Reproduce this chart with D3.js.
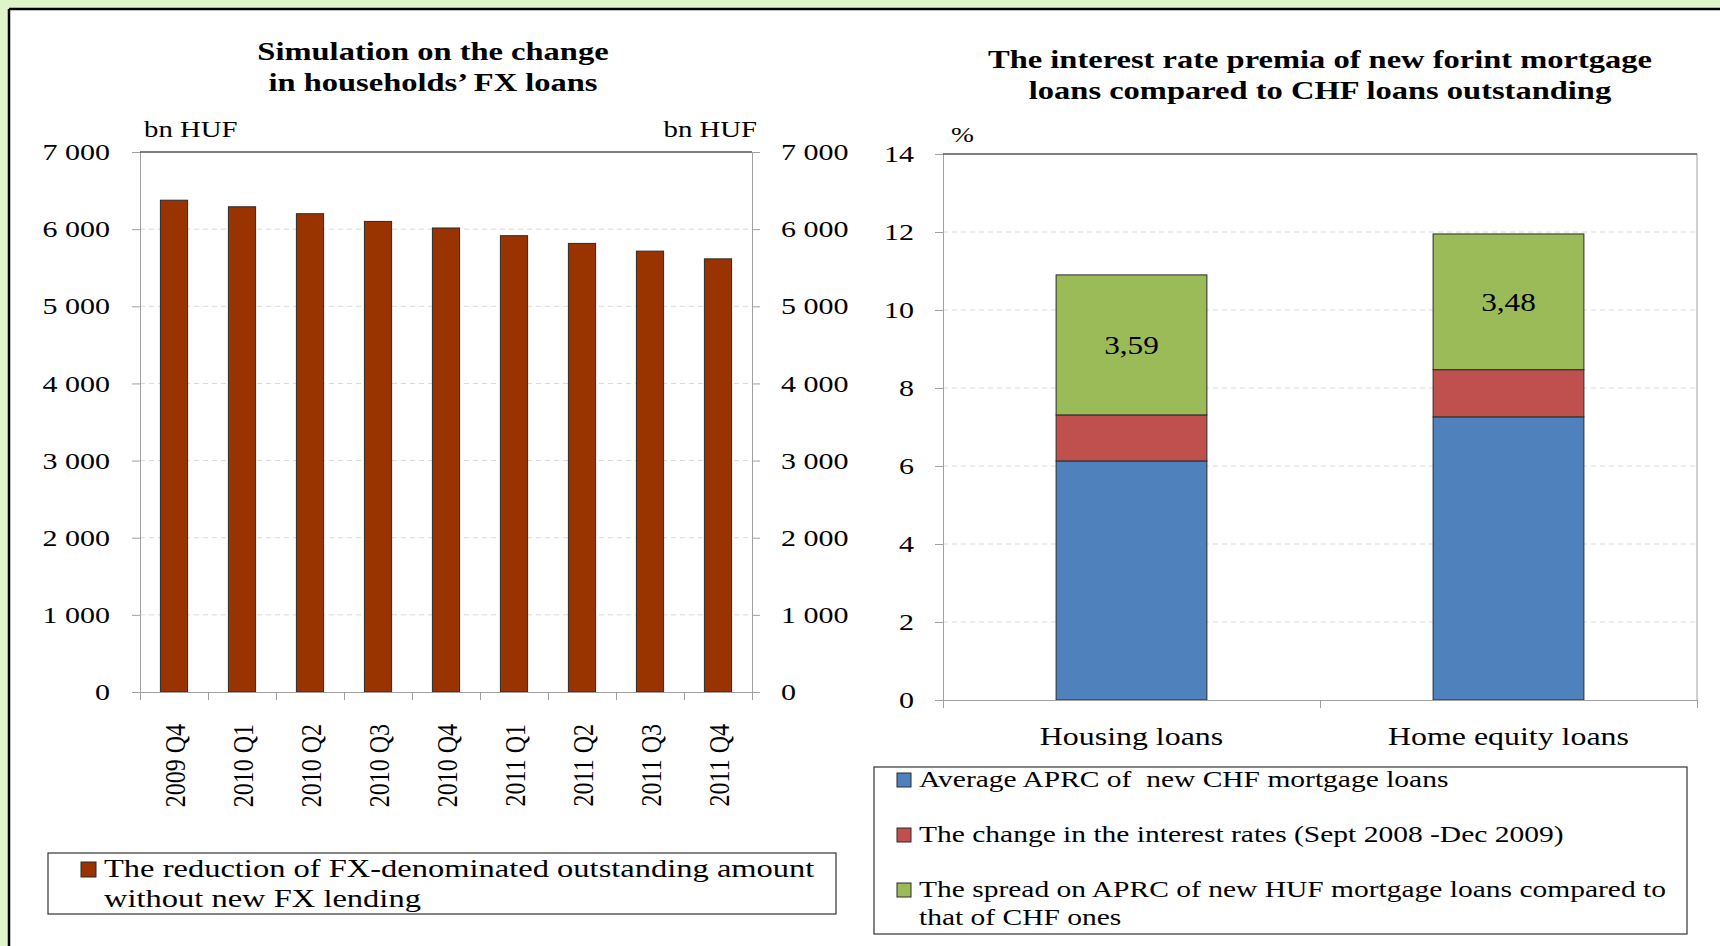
<!DOCTYPE html>
<html>
<head>
<meta charset="utf-8">
<script src="https://cdn.jsdelivr.net/npm/d3@7"></script>
<style>
  html, body { margin: 0; padding: 0; background: #fff; }
  svg { display: block; }
  text { font-family: "Liberation Serif", "Times New Roman", serif; fill: #000; white-space: pre; }
</style>
</head>
<body>
<svg id="chart" width="1720" height="946"></svg>
<script>
// ---- Data: households' FX loans (bn HUF) ----
const quarters = ["2009 Q4", "2010 Q1", "2010 Q2", "2010 Q3", "2010 Q4", "2011 Q1", "2011 Q2", "2011 Q3", "2011 Q4"];
const fxOutstanding = [6375, 6290, 6200, 6100, 6015, 5915, 5815, 5715, 5615];
const fxTicks = [0, 1000, 2000, 3000, 4000, 5000, 6000, 7000];

// ---- Data: interest rate premia (%) ----
const loanTypes = ["Housing loans", "Home equity loans"];
const aprcChf = [6.13, 7.26];
const rateChange = [1.18, 1.21];
const hufSpread = [3.59, 3.48];
const pctTicks = [0, 2, 4, 6, 8, 10, 12, 14];

const leftTitle = ["Simulation on the change", "in households\u2019 FX loans"];
const rightTitle = ["The interest rate premia of new forint mortgage", "loans compared to CHF loans outstanding"];
const leftLegend = ["The reduction of FX-denominated outstanding amount", "without new FX lending"];
const rightLegend = [
  ["Average APRC of  new CHF mortgage loans"],
  ["The change in the interest rates (Sept 2008 -Dec 2009)"],
  ["The spread on APRC of new HUF mortgage loans compared to", "that of CHF ones"]
];

const C = { bar: "#993300", blue: "#4F81BD", red: "#C0504D", green: "#9BBB59",
            axis: "#a0a0a0", grid: "#d9d9d9", outline: "#2b2b2b" };

const huLocale = d3.formatLocale({ decimal: ",", thousands: "\u00a0", grouping: [3], currency: ["", ""] });
const fmtThousands = huLocale.format(",");
const fmtComma = huLocale.format(".2f");

const SX = 1.25; // horizontal widening of the serif glyphs
function widen(sel) {
  sel.each(function () {
    const w = this.getComputedTextLength();
    this.setAttribute("textLength", (w * SX).toFixed(1));
    this.setAttribute("lengthAdjust", "spacingAndGlyphs");
  });
}

const svg = d3.select("#chart");

// page background and panel frame
svg.append("rect").attr("width", 1720).attr("height", 946).attr("fill", "#dff5c9");
svg.append("rect").attr("x", 10).attr("y", 10).attr("width", 1720).attr("height", 946).attr("fill", "#fff");
svg.append("line").attr("x1", 9).attr("x2", 1720).attr("y1", 9).attr("y2", 9).attr("stroke", "#000").attr("stroke-width", 2.5);
svg.append("line").attr("x1", 9).attr("x2", 9).attr("y1", 9).attr("y2", 946).attr("stroke", "#000").attr("stroke-width", 2.5);

// =================== LEFT CHART ===================
const L = { x0: 140, x1: 752, top: 152, bottom: 692 };
const yL = d3.scaleLinear().domain([0, 7000]).range([L.bottom, L.top]);
const xL = d3.scaleBand().domain(quarters).range([L.x0, L.x1]).paddingInner(0.6).paddingOuter(0.3);
const xLedges = d3.scaleLinear().domain([0, quarters.length]).range([L.x0, L.x1]);

const gL = svg.append("g");

// title
gL.selectAll("text.title").data(leftTitle).join("text")
  .attr("class", "title")
  .attr("x", 433).attr("y", (d, i) => 60 + i * 31)
  .attr("text-anchor", "middle")
  .style("font-size", "26px").style("font-weight", "bold")
  .text(d => d);

// gridlines
gL.append("g").selectAll("line").data(fxTicks.filter(t => t > 0 && t < 7000)).join("line")
  .attr("x1", L.x0).attr("x2", L.x1)
  .attr("y1", d => yL(d)).attr("y2", d => yL(d))
  .attr("stroke", C.grid).attr("stroke-dasharray", "5,4");

// bars
gL.append("g").selectAll("rect").data(fxOutstanding).join("rect")
  .attr("x", (d, i) => xL(quarters[i]))
  .attr("width", xL.bandwidth())
  .attr("y", d => yL(d))
  .attr("height", d => yL(0) - yL(d))
  .attr("fill", C.bar).attr("stroke", C.outline).attr("stroke-width", 1);

// axes
function styleAxis(g) {
  g.selectAll(".domain").attr("stroke", C.axis);
  g.selectAll(".tick line").attr("stroke", C.axis);
  g.selectAll(".tick text").style("font-size", "24px").style("font-family", "Liberation Serif, serif").attr("fill", "#000");
}
gL.append("g").attr("transform", `translate(${L.x0},0)`)
  .call(d3.axisLeft(yL).tickValues(fxTicks).tickFormat(fmtThousands).tickSize(8).tickSizeOuter(0).tickPadding(22))
  .call(styleAxis);
gL.append("g").attr("transform", `translate(${L.x1},0)`)
  .call(d3.axisRight(yL).tickValues(fxTicks).tickFormat(fmtThousands).tickSize(8).tickSizeOuter(0).tickPadding(21))
  .call(styleAxis);
gL.append("g").attr("transform", `translate(0,${L.bottom})`)
  .call(d3.axisBottom(xLedges).tickValues(d3.range(quarters.length + 1)).tickFormat("").tickSize(8).tickSizeOuter(0))
  .call(styleAxis);
gL.append("line").attr("x1", L.x0).attr("x2", L.x1).attr("y1", L.top).attr("y2", L.top).attr("stroke", "#000").attr("stroke-width", 1.2);

// rotated category labels (glyphs widened across the screen's horizontal axis)
gL.append("g").selectAll("text").data(quarters).join("text")
  .attr("transform", d => `translate(${xL(d) + xL.bandwidth() / 2},724) rotate(-90) scale(1,1.25)`)
  .attr("dy", "0.36em")
  .attr("text-anchor", "end")
  .style("font-size", "24px")
  .text(d => d);

// unit labels
gL.append("text").attr("x", 144).attr("y", 137).style("font-size", "23px").text("bn HUF");
gL.append("text").attr("x", 757).attr("y", 137).attr("text-anchor", "end").style("font-size", "23px").text("bn HUF");

// legend
gL.append("rect").attr("x", 48).attr("y", 853).attr("width", 788).attr("height", 61)
  .attr("fill", "#fff").attr("stroke", "#333").attr("stroke-width", 1.2);
gL.append("rect").attr("x", 81).attr("y", 862).attr("width", 15).attr("height", 15)
  .attr("fill", C.bar).attr("stroke", C.outline);
gL.selectAll("text.leg").data(leftLegend).join("text")
  .attr("class", "leg")
  .attr("x", 104).attr("y", (d, i) => 877 + i * 30)
  .style("font-size", "26px").text(d => d);

// =================== RIGHT CHART ===================
const R = { x0: 943, x1: 1697, top: 154, bottom: 700 };
const yR = d3.scaleLinear().domain([0, 14]).range([R.bottom, R.top]);
const xR = d3.scaleBand().domain(loanTypes).range([R.x0, R.x1]).paddingInner(0.6).paddingOuter(0.3);
const xRedges = d3.scaleLinear().domain([0, loanTypes.length]).range([R.x0, R.x1]);

const gR = svg.append("g");

gR.selectAll("text.title").data(rightTitle).join("text")
  .attr("class", "title")
  .attr("x", 1320).attr("y", (d, i) => 68 + i * 31)
  .attr("text-anchor", "middle")
  .style("font-size", "26px").style("font-weight", "bold")
  .text(d => d);

gR.append("g").selectAll("line").data(pctTicks.filter(t => t > 0 && t < 14)).join("line")
  .attr("x1", R.x0).attr("x2", R.x1)
  .attr("y1", d => yR(d)).attr("y2", d => yR(d))
  .attr("stroke", C.grid).attr("stroke-dasharray", "5,4");

const stackRows = loanTypes.map((t, i) => ({ type: t, aprc: aprcChf[i], change: rateChange[i], spread: hufSpread[i] }));
const keys = ["aprc", "change", "spread"];
const keyColor = { aprc: C.blue, change: C.red, spread: C.green };
const series = d3.stack().keys(keys)(stackRows);

gR.append("g").selectAll("g").data(series).join("g")
  .attr("fill", s => keyColor[s.key])
  .selectAll("rect").data(s => s).join("rect")
  .attr("x", d => xR(d.data.type))
  .attr("width", xR.bandwidth())
  .attr("y", d => yR(d[1]))
  .attr("height", d => yR(d[0]) - yR(d[1]))
  .attr("stroke", C.outline).attr("stroke-width", 1);

// value labels on the spread segment
const spreadSeries = series.find(s => s.key === "spread");
gR.append("g").selectAll("text").data(spreadSeries).join("text")
  .attr("class", "val")
  .attr("x", d => xR(d.data.type) + xR.bandwidth() / 2)
  .attr("y", d => (yR(d[0]) + yR(d[1])) / 2)
  .attr("dy", "0.35em")
  .attr("text-anchor", "middle")
  .style("font-size", "25px")
  .text(d => fmtComma(d.data.spread));

gR.append("g").attr("transform", `translate(${R.x0},0)`)
  .call(d3.axisLeft(yR).tickValues(pctTicks).tickFormat(d3.format("d")).tickSize(8).tickSizeOuter(0).tickPadding(21))
  .call(styleAxis);
gR.append("g").attr("transform", `translate(0,${R.bottom})`)
  .call(d3.axisBottom(xRedges).tickValues(d3.range(loanTypes.length + 1)).tickFormat("").tickSize(8).tickSizeOuter(0))
  .call(styleAxis);
gR.append("line").attr("x1", R.x1).attr("x2", R.x1).attr("y1", R.top).attr("y2", R.bottom).attr("stroke", C.axis);
gR.append("line").attr("x1", R.x0).attr("x2", R.x1).attr("y1", R.top).attr("y2", R.top).attr("stroke", "#000").attr("stroke-width", 1.2);

gR.append("g").selectAll("text").data(loanTypes).join("text")
  .attr("class", "cat")
  .attr("x", d => xR(d) + xR.bandwidth() / 2)
  .attr("y", 745)
  .attr("text-anchor", "middle")
  .style("font-size", "25.5px")
  .text(d => d);

gR.append("text").attr("x", 951).attr("y", 142).style("font-size", "22px").text("%");

// legend
gR.append("rect").attr("x", 874).attr("y", 767).attr("width", 813).attr("height", 167)
  .attr("fill", "#fff").attr("stroke", "#333").attr("stroke-width", 1.2);
const legItems = gR.append("g").selectAll("g").data(rightLegend).join("g")
  .attr("transform", (d, i) => `translate(0,${787 + i * 55})`);
legItems.append("rect").attr("x", 897).attr("y", -14).attr("width", 14).attr("height", 14)
  .attr("fill", (d, i) => keyColor[keys[i]]).attr("stroke", C.outline);
legItems.selectAll("text").data(d => d).join("text")
  .attr("x", 919).attr("y", (d, j) => j * 28)
  .style("font-size", "23.6px").text(d => d);

// widen horizontal text
svg.selectAll("text").filter(function () { return !(this.getAttribute("transform") || "").includes("rotate"); }).call(widen);
</script>
</body>
</html>
